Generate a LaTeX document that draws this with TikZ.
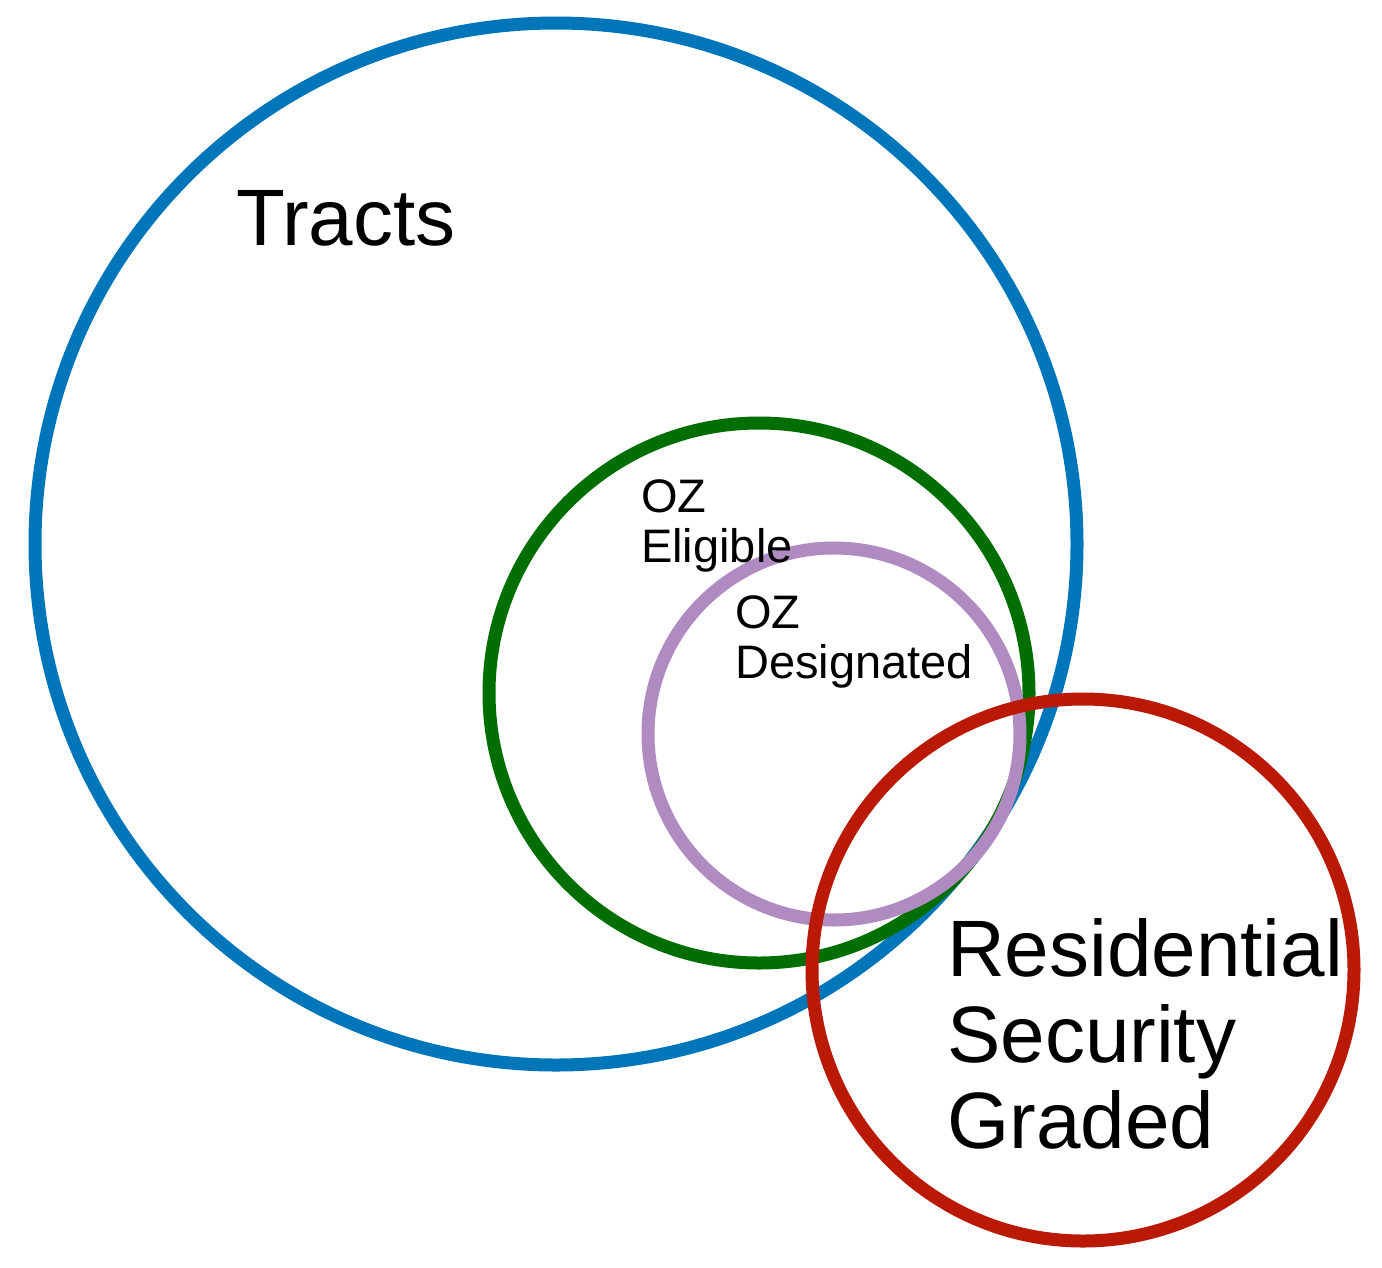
\documentclass[tikz,border=0pt]{standalone}
\usepackage{fontspec}
\setmainfont{Liberation Sans}
\definecolor{cblue}{RGB}{0,118,186}
\definecolor{cgreen}{RGB}{0,110,0}
\definecolor{cpurple}{RGB}{176,139,193}
\definecolor{cred}{RGB}{185,25,5}
\begin{document}
\begin{tikzpicture}[x=1pt,y=-1pt,
  ring/.style={line width=13pt},
  big/.style={anchor=base west,inner sep=0pt,font=\fontsize{80}{86}\selectfont},
  small/.style={anchor=base west,inner sep=0pt,font=\fontsize{47}{50}\selectfont}]
\useasboundingbox (0,0) rectangle (1382,1267);
\draw[ring,cblue] (556,544) circle[radius=521];
\draw[ring,cgreen] (759,693) circle[radius=270];
\draw[ring,cpurple] (834,734) circle[radius=186];
\draw[ring,cred] (1083,970) circle[radius=271];
\node[big] (tracts) at (236,245) {Tracts};
\node[big] (rsg) at (947,976) {\begin{tabular}[t]{@{}l@{}}Residential\\Security\\Graded\end{tabular}};
\node[small] (elig) at (641,512) {\begin{tabular}[t]{@{}l@{}}OZ\\Eligible\end{tabular}};
\node[small] (desig) at (735,628) {\begin{tabular}[t]{@{}l@{}}OZ\\Designated\end{tabular}};
\end{tikzpicture}
\end{document}
